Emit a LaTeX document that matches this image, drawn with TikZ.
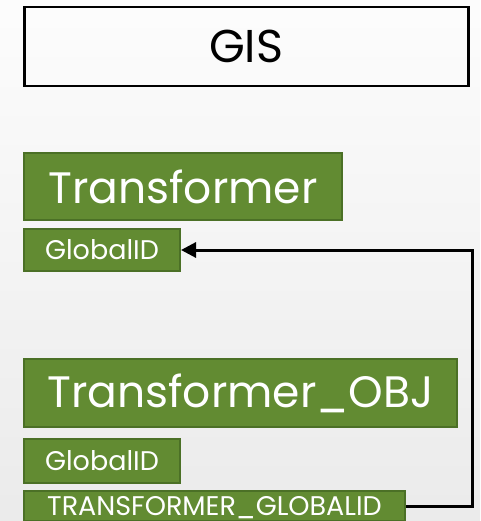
\documentclass[tikz,border=0pt]{standalone}
\usepackage{fontspec}
\setmainfont{Poppins}
\usetikzlibrary{arrows.meta,calc}
\definecolor{gfill}{HTML}{628B32}
\definecolor{gdraw}{HTML}{4B7026}
\begin{document}
\begin{tikzpicture}[x=1pt,y=-1pt,
  gbox/.style={draw=gdraw,line width=2pt,fill=gfill,text=white,anchor=north west,inner sep=0pt,align=center},
  conn/.style={line width=3pt,-{Triangle[length=15pt,width=15pt]}}]
\clip (0,0) rectangle (480,521);
\shade[top color=white!99!black,bottom color=white!92!black] (0,0) rectangle (480,521);
\node[draw=black,line width=2.5pt,anchor=north west,minimum width=444pt,minimum height=79pt,inner sep=0pt,font=\fontsize{46}{46}\selectfont] (gis) at (23,6) {GIS};
\node[gbox,minimum width=318pt,minimum height=67pt,font=\fontsize{44}{44}\selectfont] (tr) at (23,152) {Transformer};
\node[gbox,minimum width=156pt,minimum height=42pt,font=\fontsize{27}{27}\selectfont] (g1) at (23,228) {GlobalID};
\node[gbox,minimum width=433pt,minimum height=68pt,font=\fontsize{44}{44}\selectfont] (tobj) at (23,358) {Transformer\_OBJ};
\node[gbox,minimum width=156pt,minimum height=44pt,font=\fontsize{27}{27}\selectfont] (g2) at (23,438) {GlobalID};
\node[gbox,minimum width=381pt,minimum height=30pt] (tg) at (23,490) {};
\node[text=white,font=\fontsize{27}{27}\selectfont,inner sep=0pt] (tgl) at ($(tg.center)+(0,2)$) {TRANSFORMER\_GLOBALID};
\coordinate (turn) at (472,380);
\draw[conn] (tg.east) -- (tg.east -| turn) -- (g1.east -| turn) -- (g1.east);
\end{tikzpicture}
\end{document}
